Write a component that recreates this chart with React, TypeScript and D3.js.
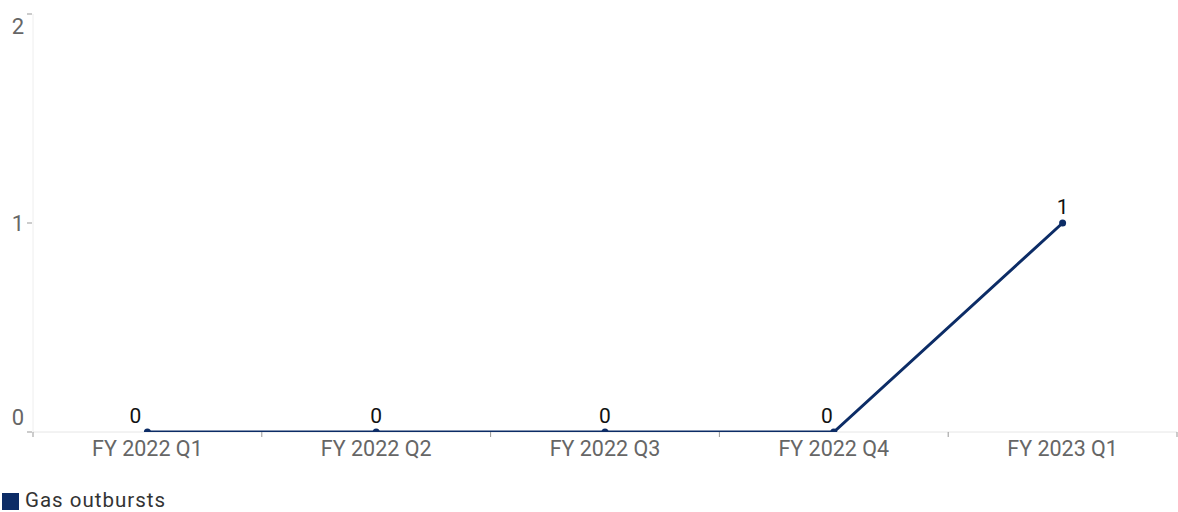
import React from "react";
import * as d3 from "d3";

const categories = ["FY 2022 Q1", "FY 2022 Q2", "FY 2022 Q3", "FY 2022 Q4", "FY 2023 Q1"];
const values = [0, 0, 0, 0, 1];
const yTicks = [0, 1, 2];
const seriesName = "Gas outbursts";

const W = 1178, H = 512;
const left = 33, right = 1177, top = 14, bottom = 432;
const color = "#0c2c66";
const font = "Roboto, 'Open Sans', sans-serif";

export default function App() {
  const x = d3.scaleBand<string>().domain(categories).range([left, right]).padding(0);
  const y = d3.scaleLinear().domain([0, 2]).range([bottom, top]);
  const line = d3.line<number>()
    .x((_, i) => (x(categories[i]) as number) + x.bandwidth() / 2)
    .y((d) => y(d));
  const bounds = [...categories.map((c) => x(c) as number), right];
  const cx = (i: number) => (x(categories[i]) as number) + x.bandwidth() / 2;
  const yLabelShift = (t: number) => (t === 2 ? 12 : t === 0 ? -15 : 0);
  const dataShift = [-12, 0, 0, -7, 0];
  return (
    <svg width={W} height={H} style={{ position: "absolute", left: 0, top: 0, fontFamily: font }}>
      <rect width={W} height={H} fill="#fff" />
      <line x1={left} x2={left} y1={top} y2={bottom} stroke="#eeeeee" />
      <line x1={left} x2={right} y1={bottom} y2={bottom} stroke="#e6e6e6" />
      {yTicks.map((t) => (
        <g key={t}>
          <line x1={left - 6} x2={left - 1} y1={y(t)} y2={y(t)} stroke="#999" />
          <text x={left - 9} y={y(t) + yLabelShift(t)} dy="0.36em" textAnchor="end" fontSize={22} fill="#666">{t}</text>
        </g>
      ))}
      {bounds.map((b, i) => (
        <line key={i} x1={b} x2={b} y1={bottom} y2={bottom + 5} stroke="#999" />
      ))}
      {categories.map((c) => (
        <text key={c} x={(x(c) as number) + x.bandwidth() / 2} y={bottom + 24} textAnchor="middle" fontSize={21.5} fill="#666">{c}</text>
      ))}
      <defs>
        <clipPath id="plot"><rect x={left} y={0} width={right - left} height={bottom} /></clipPath>
      </defs>
      <path d={line(values) || ""} fill="none" stroke={color} strokeWidth={3} clipPath="url(#plot)" />
      {values.map((v, i) => (
        <g key={i}>
          <circle cx={cx(i)} cy={y(v)} r={3.5} fill={color} clipPath="url(#plot)" />
          <text x={cx(i) + dataShift[i]} y={y(v) - 9} textAnchor="middle" fontSize={21} fill="#111">{v}</text>
        </g>
      ))}
      <rect x={2} y={493} width={17} height={17} fill={color} />
      <text x={25} y={507} fontSize={20.5} letterSpacing={1} fill="#333">{seriesName}</text>
    </svg>
  );
}
